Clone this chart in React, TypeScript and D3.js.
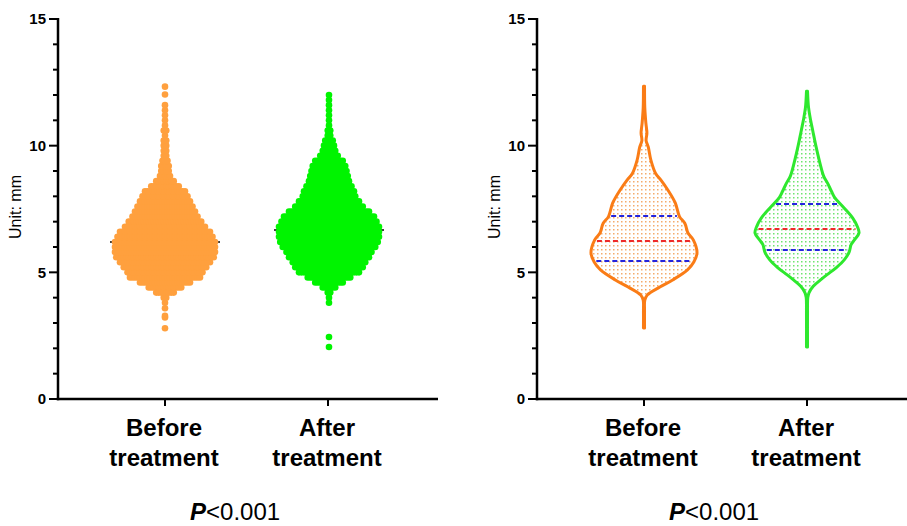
import React from "react";
import * as d3 from "d3";

// ---------- data ----------
const categories = ["Before", "After"];
const categoryLabelLines = [
  ["Before", "treatment"],
  ["After", "treatment"],
];
const majorTicks = [0, 5, 10, 15];
const minorTicks = [1, 2, 3, 4, 6, 7, 8, 9, 11, 12, 13, 14];

// beeswarm: value bins (mm) and number of dots in each bin
const swarmBins = [
  3.8, 4.0, 4.2, 4.4, 4.6, 4.8, 5.0, 5.2, 5.4, 5.6, 5.8, 6.0, 6.2, 6.4, 6.6, 6.8, 7.0, 7.2, 7.4, 7.6, 7.8,
  8.0, 8.2, 8.4, 8.6, 8.8, 9.0, 9.2, 9.4, 9.6, 9.8, 10.0, 10.2, 10.4, 10.6, 10.8, 11.0, 11.2, 11.4, 11.6,
  11.8, 12.0,
];
const beforeCounts = [
  1, 2, 8, 14, 21, 29, 31, 34, 37, 40, 41, 41, 41, 39, 37, 33, 30, 27, 25, 23, 21, 19, 17, 12, 8, 5, 4, 4,
  3, 2, 2, 2, 2, 1, 2, 1, 1, 1, 1, 1, 0, 0,
];
const afterCounts = [
  1, 1, 2, 6, 12, 18, 25, 28, 30, 33, 35, 38, 40, 41, 41, 41, 39, 37, 33, 28, 25, 22, 21, 19, 17, 16, 15,
  14, 12, 8, 6, 5, 4, 2, 2, 1, 1, 1, 1, 1, 1, 1,
];
const beforeOutliers = [2.79, 3.22, 3.28, 3.58, 12.02, 12.33];
const afterOutliers = [2.05, 2.45];
const swarmMedians = [6.2, 6.67];

// violin: density profile (relative width) at values
const beforeViolinValues = [
  2.8, 3.5, 3.9, 4.1, 4.42, 4.7, 5.1, 5.41, 5.76, 6.28, 6.55, 6.94, 7.2, 7.74, 8.25, 8.64, 8.9, 9.43, 9.95,
  10.2, 10.5, 10.9, 11.5, 12.35,
];
const beforeViolinDensity = [
  0.01, 0.01, 0.015, 0.06, 0.3, 0.54, 0.82, 0.94, 1.0, 0.93, 0.83, 0.77, 0.67, 0.59, 0.45, 0.32, 0.22, 0.13,
  0.08, 0.04, 0.055, 0.035, 0.015, 0.01,
];
const afterViolinValues = [
  2.05, 3.5, 4.0, 4.2, 4.45, 4.7, 4.9, 5.2, 5.5, 5.8, 6.1, 6.3, 6.55, 6.8, 7.14, 7.57, 7.96, 8.2, 8.5, 8.8,
  9.3, 10.0, 10.6, 11.0, 11.5, 12.15,
];
const afterViolinDensity = [
  0.01, 0.01, 0.015, 0.04, 0.12, 0.26, 0.38, 0.57, 0.72, 0.81, 0.85, 0.92, 1.0, 0.97, 0.88, 0.7, 0.53, 0.47,
  0.4, 0.32, 0.25, 0.17, 0.11, 0.07, 0.03, 0.01,
];
const beforeQuartiles = [5.45, 6.24, 7.22];
const afterQuartiles = [5.88, 6.71, 7.7];

// ---------- layout ----------
const W = 907;
const H = 526;
const yTop = 19;
const yBottom = 399;
const axisLen = 380;
const panels = [58, 537];
const swarmColors = ["#ffa03e", "#00f400"];
const violinStroke = ["#fa7c16", "#2ee82e"];
const violinDot = ["#f4ab6c", "#6fe46f"];
const FONT = "'Liberation Sans', Arial, Helvetica, sans-serif";

const y = d3.scaleLinear().domain([0, 15]).range([yBottom, yTop]);

function Axes({ x0 }: { x0: number }) {
  const x = d3.scalePoint<string>().domain(categories).range([x0 + 107, x0 + 270]);
  return (
    <g>
      <line x1={x0} x2={x0} y1={y(15) - 1} y2={yBottom + 1.25} stroke="#000" strokeWidth={2.5} />
      <line x1={x0 - 1.25} x2={x0 + axisLen} y1={yBottom} y2={yBottom} stroke="#000" strokeWidth={2.5} />
      {majorTicks.map((t) => (
        <g key={"M" + t}>
          <line x1={x0 - 9} x2={x0} y1={y(t)} y2={y(t)} stroke="#000" strokeWidth={2} />
          <text
            x={x0 - 12}
            y={y(t)}
            dy="0.36em"
            textAnchor="end"
            fontSize={15}
            fontWeight="bold"
            fontFamily={FONT}
          >
            {t}
          </text>
        </g>
      ))}
      {minorTicks.map((t) => (
        <line key={"m" + t} x1={x0 - 5} x2={x0} y1={y(t)} y2={y(t)} stroke="#000" strokeWidth={2} />
      ))}
      {categories.map((c, i) => (
        <g key={c}>
          <line x1={x(c)!} x2={x(c)!} y1={yBottom} y2={yBottom + 7} stroke="#000" strokeWidth={2} />
          {categoryLabelLines[i].map((s, k) => (
            <text
              key={k}
              x={x(c)! - 1}
              y={436 + k * 30}
              textAnchor="middle"
              fontSize={24}
              fontWeight="bold"
              fontFamily={FONT}
            >
              {s}
            </text>
          ))}
        </g>
      ))}
      <text
        transform={`translate(${x0 - 37},${(yTop + yBottom) / 2 - 2}) rotate(-90)`}
        textAnchor="middle"
        fontSize={16}
        fontWeight={500}
        fontFamily={FONT}
      >
        Unit: mm
      </text>
      <text x={x0 + 132} y={520} fontSize={24} fontFamily={FONT}>
        <tspan fontWeight="bold" fontStyle="italic">
          P
        </tspan>
        {"<0.001"}
      </text>
    </g>
  );
}

function Swarm({ x0 }: { x0: number }) {
  const x = d3.scalePoint<string>().domain(categories).range([x0 + 107, x0 + 270]);
  const r = 3.3;
  const s = 2.5;
  const groups = [
    { counts: beforeCounts, outliers: beforeOutliers },
    { counts: afterCounts, outliers: afterOutliers },
  ];
  return (
    <g>
      {categories.map((c, gi) => {
        const cx = x(c)! + (gi === 0 ? 0 : 1);
        const g = groups[gi];
        const dots: { x: number; y: number }[] = [];
        swarmBins.forEach((v, i) => {
          const n = g.counts[i];
          for (let j = 0; j < n; j++) {
            dots.push({ x: cx + (j - (n - 1) / 2) * s, y: y(v) });
          }
        });
        g.outliers.forEach((v) => dots.push({ x: cx, y: y(v) }));
        return (
          <g key={c}>
            <line
              x1={cx - 55}
              x2={cx + 55}
              y1={y(swarmMedians[gi])}
              y2={y(swarmMedians[gi])}
              stroke="#000"
              strokeWidth={1.6}
            />
            {dots.map((d, k) => (
              <circle key={k} cx={d.x} cy={d.y} r={r} fill={swarmColors[gi]} />
            ))}
          </g>
        );
      })}
    </g>
  );
}

function Violins({ x0 }: { x0: number }) {
  const x = d3.scalePoint<string>().domain(categories).range([x0 + 107, x0 + 270]);
  const groups = [
    { vals: beforeViolinValues, dens: beforeViolinDensity, q: beforeQuartiles, maxW: 53 },
    { vals: afterViolinValues, dens: afterViolinDensity, q: afterQuartiles, maxW: 52 },
  ];
  return (
    <g>
      <defs>
        {violinDot.map((col, i) => (
          <pattern key={i} id={"vdot" + i} width={4} height={4} patternUnits="userSpaceOnUse">
            <rect x={1} y={1} width={1.5} height={1.5} fill={col} />
          </pattern>
        ))}
      </defs>
      {categories.map((c, gi) => {
        const cx = x(c)!;
        const g = groups[gi];
        const w = d3.scaleLinear().domain([0, 1]).range([0, g.maxW]);
        const pts = g.vals.map((v, i) => ({ v, d: g.dens[i] }));
        const area = d3
          .area<{ v: number; d: number }>()
          .y((p) => y(p.v))
          .x0((p) => cx - w(p.d))
          .x1((p) => cx + w(p.d))
          .curve(d3.curveCatmullRom.alpha(0.5));
        const interp = d3.scaleLinear().domain(g.vals).range(g.dens);
        return (
          <g key={c}>
            <path d={area(pts)!} fill={`url(#vdot${gi})`} stroke="none" />
            {g.q.map((qv, k) => {
              const hw = w(interp(qv)) - 2.5;
              return (
                <line
                  key={k}
                  x1={cx - hw}
                  x2={cx + hw}
                  y1={y(qv)}
                  y2={y(qv)}
                  stroke={k === 1 ? "#ee2a2a" : "#2424dd"}
                  strokeWidth={2}
                  strokeDasharray="5,3"
                />
              );
            })}
            <path
              d={area(pts)!}
              fill="none"
              stroke={violinStroke[gi]}
              strokeWidth={3}
              strokeLinejoin="round"
            />
          </g>
        );
      })}
    </g>
  );
}

export default function App() {
  return (
    <svg
      width={W}
      height={H}
      viewBox={`0 0 ${W} ${H}`}
      style={{ position: "absolute", left: 0, top: 0, background: "#fff" }}
    >
      <rect width={W} height={H} fill="#fff" />
      <Swarm x0={panels[0]} />
      <Violins x0={panels[1]} />
      <Axes x0={panels[0]} />
      <Axes x0={panels[1]} />
    </svg>
  );
}
